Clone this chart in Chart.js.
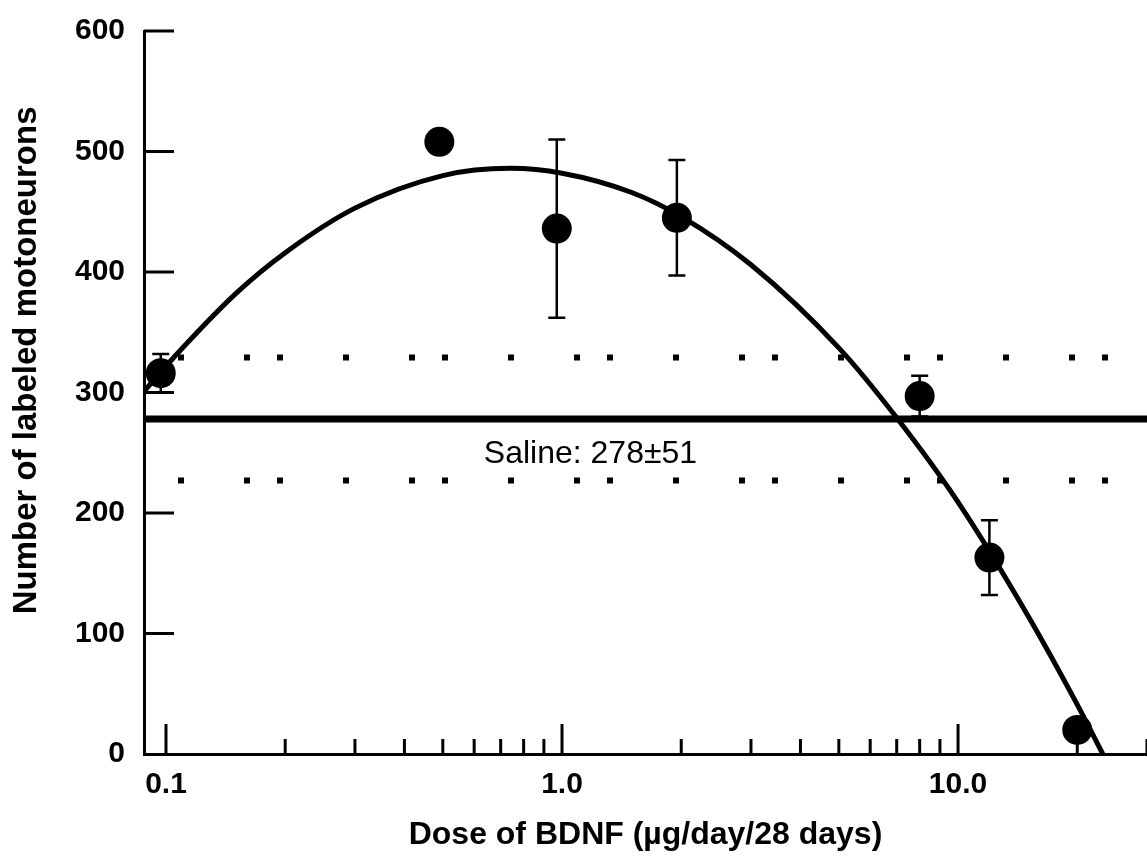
<!DOCTYPE html>
<html>
<head>
<meta charset="utf-8">
<script src="https://cdn.jsdelivr.net/npm/chart.js@4.4.1/dist/chart.umd.min.js"></script>
<style>
  html, body { margin: 0; padding: 0; background: #fff; }
  #wrap { width: 1147px; height: 857px; }
</style>
</head>
<body>
<div id="wrap"><canvas id="c" width="1147" height="857"></canvas></div>
<script>
// ---- data ----
const doseX  = [0.097, 0.49, 0.97, 1.95, 8.0, 12.0, 20.0];
const meanY  = [316, 508, 436, 445, 297, 163, 20];
const semY   = [16, 0, 74, 48, 17, 31, 8];

const fitX = [0.088, 0.1, 0.15, 0.2, 0.3, 0.5, 0.74, 1, 1.5, 2, 3, 5, 7, 10, 15, 20, 23.2];
const fitY = [301, 322, 382, 416, 453, 480, 486, 482, 466, 446, 406, 337, 279, 209, 115, 41, 0];

const salineMean = 278;
const salineSD = 51;
const salineText = 'Saline: 278±51';
const salineTextAt = [1.18, 249];

const xRange = [0.088, 30];
const yRange = [0, 600];
const yTicks = [0, 100, 200, 300, 400, 500, 600];
const xMajorTicks = [0.1, 1, 10];
const xMajorLabels = ['0.1', '1.0', '10.0'];
const xMinorTicks = [0.2, 0.3, 0.4, 0.5, 0.6, 0.7, 0.8, 0.9, 2, 3, 4, 5, 6, 7, 8, 9, 20, 30];

const xTitle = 'Dose of BDNF (µg/day/28 days)';
const yTitle = 'Number of labeled motoneurons';

const FONT = '"Liberation Sans", Arial, Helvetica, sans-serif';

const pts = doseX.map((x, i) => ({ x, y: meanY[i] }));
const fit = fitX.map((x, i) => ({ x, y: fitY[i] }));
const hline = v => xRange.map(x => ({ x, y: v }));

const extras = {
  id: 'extras',
  afterDatasetsDraw(chart) {
    const { ctx, chartArea: a } = chart;
    const xs = chart.scales.x, ys = chart.scales.y;
    ctx.save();
    ctx.strokeStyle = '#000';
    ctx.lineCap = 'butt';
    // inward tick marks
    ctx.lineWidth = 3;
    yTicks.forEach(v => {
      if (v === yRange[0]) return;
      const py = ys.getPixelForValue(v);
      ctx.beginPath(); ctx.moveTo(a.left, py); ctx.lineTo(a.left + 30, py); ctx.stroke();
    });
    xMajorTicks.forEach(v => {
      const px = xs.getPixelForValue(v);
      ctx.beginPath(); ctx.moveTo(px, a.bottom); ctx.lineTo(px, a.bottom - 30); ctx.stroke();
    });
    xMinorTicks.forEach(v => {
      const px = xs.getPixelForValue(v);
      ctx.beginPath(); ctx.moveTo(px, a.bottom); ctx.lineTo(px, a.bottom - 15); ctx.stroke();
    });
    // error bars
    ctx.lineWidth = 2.5;
    doseX.forEach((d, i) => {
      if (!semY[i]) return;
      const px = xs.getPixelForValue(d);
      const pt = ys.getPixelForValue(meanY[i] + semY[i]);
      const pb = ys.getPixelForValue(meanY[i] - semY[i]);
      ctx.beginPath();
      ctx.moveTo(px, pt); ctx.lineTo(px, pb);
      ctx.moveTo(px - 8.5, pt); ctx.lineTo(px + 8.5, pt);
      ctx.moveTo(px - 8.5, pb); ctx.lineTo(px + 8.5, pb);
      ctx.stroke();
    });
    // saline label
    ctx.fillStyle = '#000';
    ctx.font = '32px ' + FONT;
    ctx.textAlign = 'center';
    ctx.textBaseline = 'middle';
    ctx.fillText(salineText, xs.getPixelForValue(salineTextAt[0]), ys.getPixelForValue(salineTextAt[1]));
    ctx.restore();
  }
};

new Chart(document.getElementById('c'), {
  type: 'scatter',
  data: {
    datasets: [
      { data: pts, pointRadius: 15, pointHoverRadius: 15, backgroundColor: '#000', borderColor: '#000', borderWidth: 0, showLine: false },
      { data: fit, showLine: true, borderColor: '#000', borderWidth: 5, pointRadius: 0, cubicInterpolationMode: 'monotone', fill: false },
      { data: hline(salineMean), showLine: true, borderColor: '#000', borderWidth: 7, pointRadius: 0 },
      { data: hline(salineMean + salineSD), showLine: true, borderColor: '#000', borderWidth: 6, pointRadius: 0, borderDash: [6, 27, 6, 60, 6, 60], borderDashOffset: 65, borderCapStyle: 'butt' },
      { data: hline(salineMean - salineSD), showLine: true, borderColor: '#000', borderWidth: 6, pointRadius: 0, borderDash: [6, 27, 6, 60, 6, 60], borderDashOffset: 65, borderCapStyle: 'butt' }
    ]
  },
  options: {
    responsive: false,
    animation: false,
    events: [],
    layout: { autoPadding: false, padding: { top: 31, right: 0, bottom: 0, left: 0 } },
    plugins: { legend: { display: false }, tooltip: { enabled: false } },
    scales: {
      x: {
        type: 'logarithmic',
        min: xRange[0], max: xRange[1],
        afterFit(s) { s.height = 103; s.paddingLeft = 0; s.paddingRight = 0; },
        afterBuildTicks(s) { s.ticks = xMajorTicks.map(v => ({ value: v })); },
        grid: { display: true, drawOnChartArea: false, drawTicks: false },
        border: { display: true, color: '#000', width: 3 },
        ticks: {
          autoSkip: false, maxRotation: 0, padding: 13, color: '#000',
          font: { family: FONT, size: 30, weight: 'bold' },
          callback: (v) => { const i = xMajorTicks.indexOf(v); return i >= 0 ? xMajorLabels[i] : ''; }
        },
        title: {
          display: true, text: xTitle, color: '#000',
          font: { family: FONT, size: 32, weight: 'bold' }, padding: { top: 0, bottom: 3 }
        }
      },
      y: {
        type: 'linear',
        min: yRange[0], max: yRange[1],
        afterFit(s) { s.width = 144; s.paddingTop = 0; s.paddingBottom = 0; },
        afterBuildTicks(s) { s.ticks = yTicks.map(v => ({ value: v })); },
        grid: { display: true, drawOnChartArea: false, drawTicks: false },
        border: { display: true, color: '#000', width: 3 },
        ticks: {
          padding: 19, color: '#000',
          font: { family: FONT, size: 30, weight: 'bold' }
        },
        title: {
          display: true, text: '\u00A0\u00A0\u00A0\u00A0\u00A0\u00A0\u00A0' + yTitle, color: '#000',
          font: { family: FONT, size: 33, weight: 'bold' }, padding: { top: 7, bottom: 0 }
        }
      }
    }
  },
  plugins: [extras]
});
</script>
</body>
</html>
